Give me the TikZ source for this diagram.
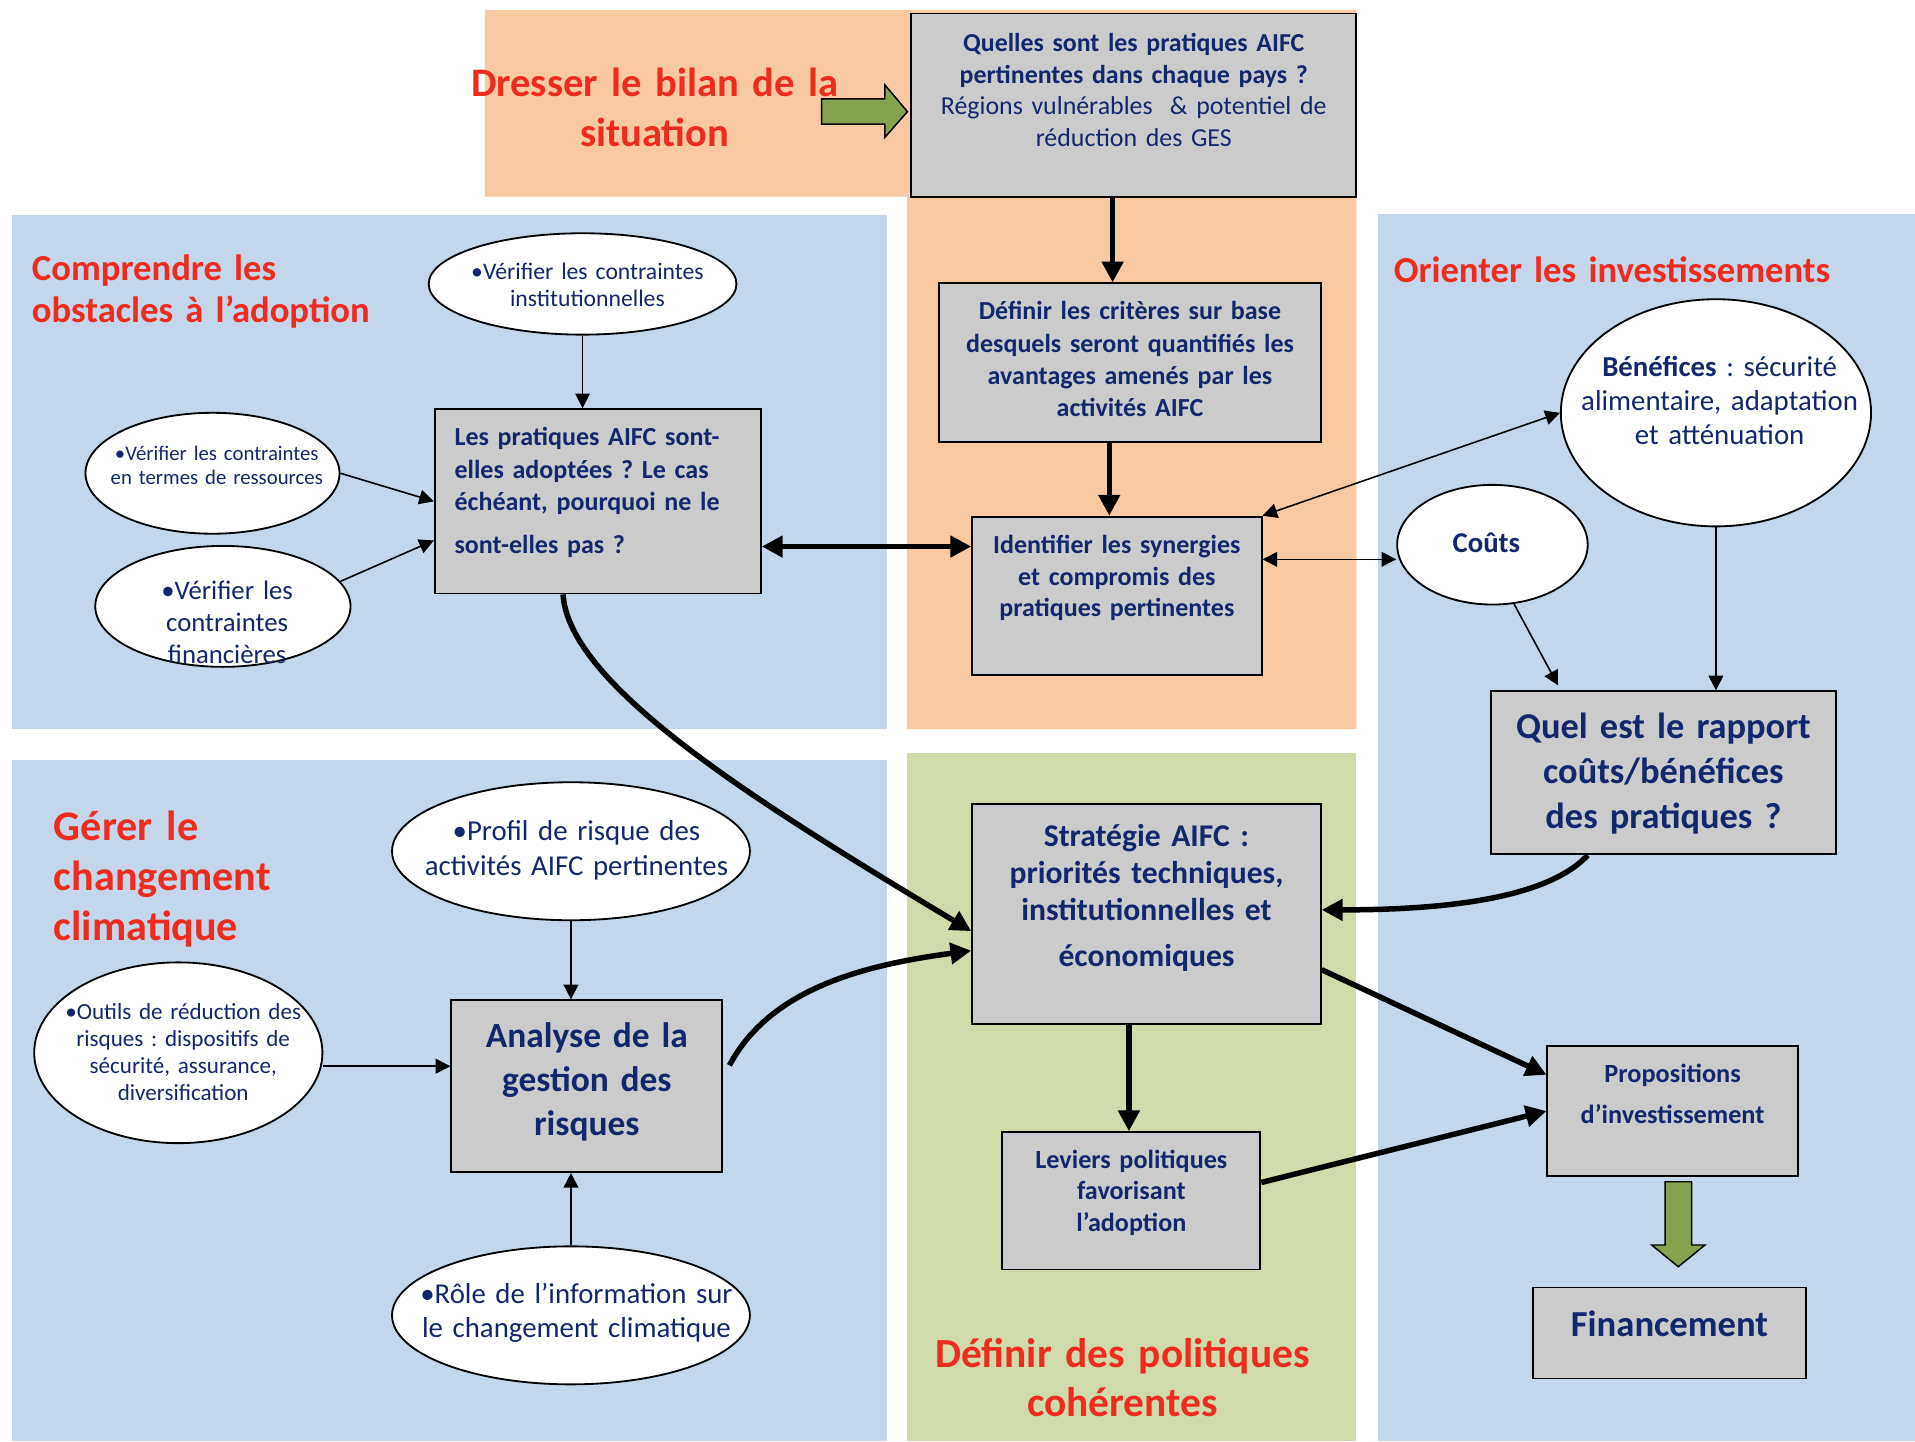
\documentclass[tikz,border=0pt]{standalone}
\usepackage{fontspec}
\setmainfont{Carlito}
\usetikzlibrary{arrows.meta,shapes.geometric,calc}
\definecolor{navy}{HTML}{13286C}
\definecolor{tred}{HTML}{EE2B1F}
\definecolor{orbg}{HTML}{F9CAA2}
\definecolor{blbg}{HTML}{C3D6EA}
\definecolor{grbg}{HTML}{CFDCAA}
\definecolor{boxgray}{HTML}{CBCBCB}
\definecolor{garrow}{HTML}{87A24E}
\newcommand{\fs}[2]{\fontsize{#1}{#2}\selectfont}
\frenchspacing
\begin{document}
\begin{tikzpicture}[x=1pt,y=-1pt,
  box/.style={draw=black,line width=1.5pt,fill=boxgray,rectangle,inner sep=0pt},
  ell/.style={draw=black,line width=1.5pt,fill=white,ellipse,inner sep=0pt},
  txt/.style={inner sep=0pt,text=navy,align=center,anchor=base,text width=420pt},
  ltxt/.style={inner sep=0pt,text=navy,align=left,anchor=base west,text width=420pt},
  ttl/.style={inner sep=0pt,text=tred,align=center,anchor=base,text width=500pt},
  lttl/.style={inner sep=0pt,text=tred,align=left,anchor=base west,text width=500pt},
  thk/.style={line width=4.5pt,-{Triangle[length=17pt,width=17pt]}},
  thkd/.style={line width=4.5pt,{Triangle[length=17pt,width=17pt]}-{Triangle[length=17pt,width=17pt]}},
  thn/.style={line width=1.3pt,-{Triangle[length=12pt,width=12pt]}},
  thnd/.style={line width=1.3pt,{Triangle[length=12pt,width=12pt]}-{Triangle[length=12pt,width=12pt]}},
  garr/.style={draw=black,line width=1.2pt,fill=garrow,line join=miter}
]
\useasboundingbox (0,0) rectangle (1568,1180);
\fill[white] (0,0) rectangle (1568,1180);
% backgrounds
\fill[orbg] (397,8) -- (1110.6,8) -- (1110.6,597) -- (742.6,597) -- (742.6,161) -- (397,161) -- cycle;
\fill[blbg] (10,176) rectangle (726.5,597);
\fill[blbg] (10,622.6) rectangle (726.5,1180);
\fill[grbg] (742.6,616.6) rectangle (1110.6,1180);
\fill[blbg] (1128,175) rectangle (1568,1180);

% boxes
\node[box,minimum width=364.6pt,minimum height=150pt] (bQ) at (928.3,86) {};
\node[box,minimum width=312.5pt,minimum height=130pt] (bD) at (925.25,297) {};
\node[box,minimum width=237pt,minimum height=130pt] (bI) at (914.5,488) {};
\node[box,minimum width=267pt,minimum height=151pt] (bP) at (489.5,410.5) {};
\node[box,minimum width=222pt,minimum height=140.6pt] (bA) at (480.5,889.3) {};
\node[box,minimum width=285.5pt,minimum height=180pt] (bS) at (938.75,748.4) {};
\node[box,minimum width=211.3pt,minimum height=112.4pt] (bL) at (926.35,983.2) {};
\node[box,minimum width=282pt,minimum height=133.4pt] (bR) at (1362,632.7) {};
\node[box,minimum width=205pt,minimum height=106.6pt] (bPr) at (1369.5,909.7) {};
\node[box,minimum width=224pt,minimum height=74.5pt] (bF) at (1367,1091.5) {};

% ellipses
\node[ell,minimum width=252pt,minimum height=83pt] (eInst) at (477,232.5) {};
\node[ell,minimum width=208pt,minimum height=99pt] (eRes) at (174,387.5) {};
\node[ell,minimum width=209pt,minimum height=99pt] (eFin) at (182.5,496.5) {};
\node[ell,minimum width=254pt,minimum height=186pt] (eBen) at (1405,338) {};
\node[ell,minimum width=156pt,minimum height=98pt] (eCout) at (1222,446) {};
\node[ell,minimum width=293pt,minimum height=113pt] (eProf) at (467.5,697) {};
\node[ell,minimum width=236pt,minimum height=148pt] (eOut) at (146,862) {};
\node[ell,minimum width=293pt,minimum height=113pt] (eRole) at (467.5,1077) {};

% green block arrows
\draw[garr] (672.8,81) -- (724.6,81) -- (724.6,69.6) -- (743,91.4) -- (724.6,112.4) -- (724.6,101.6) -- (672.8,101.6) -- cycle;
\draw[garr] (1363.3,967.6) -- (1385.1,967.6) -- (1385.1,1019.4) -- (1396,1019.4) -- (1374.2,1037.2) -- (1352.4,1019.4) -- (1363.3,1019.4) -- cycle;

% connectors
\draw[thk] ([xshift=-17.3pt]bQ.south) -- ([xshift=-17.3pt]bQ.south |- bD.north);
\draw[thk] ([xshift=-17pt]bD.south) -- ([xshift=-17pt]bD.south |- bI.north);
\draw[thkd] ([yshift=-37pt]bP.east) -- ([yshift=-37pt]bP.east -| bI.west);
\draw[thnd] (bI.north east) -- (eBen.west);
\draw[thnd] ([yshift=30pt]bI.east) -- ([yshift=30pt]bI.east -| eCout.west);
\draw[thn] (eCout.-70) -- ([xshift=55.5pt,yshift=4pt]bR.north west);
\draw[thn] (eBen.south) -- (eBen.south |- bR.north);
\draw[thn] (eInst.south) -- (eInst.south |- bP.north);
\draw[thn] (eRes.east) -- (bP.west);
\draw[thn] (eFin.12) -- ([yshift=-32pt]bP.west);
\draw[thn] (eProf.south) -- (eProf.south |- bA.north);
\draw[thn] ([yshift=-11pt]eOut.east) -- ([yshift=-11pt]eOut.east -| bA.west);
\draw[thn] (eRole.north) -- (eRole.north |- bA.south);
\draw[thk] ([xshift=-28.5pt]bP.south) .. controls +(5,75) and +(-175,-105) .. ([yshift=-14pt]bS.west);
\draw[thk] ([xshift=5pt,yshift=17pt]bA.east) .. controls +(33,-62) and +(-90,12) .. ([yshift=-30pt]bS.west);
\draw[thk] ([xshift=-62pt]bR.south) .. controls +(-35,38) and +(90,0) .. ([yshift=3.4pt]bS.east);
\draw[thk] ([yshift=-45.6pt]bS.east) -- ([yshift=29.7pt]bPr.west);
\draw[thk] ([xshift=-2pt]bL.north |- bS.south) -- ([xshift=-2pt]bL.north);
\draw[thk] ([yshift=15pt]bL.east) -- (bPr.west);

% box texts
\node[txt,font=\fs{21.2}{26}] (tQ) at (928.3,42) {{\bfseries Quelles sont les pratiques AIFC\\pertinentes dans chaque pays ?}\\Régions vulnérables~ \& potentiel de\\réduction des GES};
\node[txt,font=\bfseries\fs{21.3}{26.3}] (tD) at (925.25,262) {Définir les critères sur base\\desquels seront quantifiés les\\avantages amenés par les\\activités AIFC};
\node[txt,font=\bfseries\fs{21.3}{26}] (tI) at (914.5,453) {Identifier les synergies\\et compromis des\\pratiques pertinentes};
\node[ltxt,font=\bfseries\fs{21.3}{26.5}] (tP) at (372,365) {Les pratiques AIFC sont-\\elles adoptées ? Le cas\\échéant, pourquoi ne le\\[8.5pt]sont-elles pas ?};
\node[txt,font=\bfseries\fs{29}{36}] (tA) at (480.5,858) {Analyse de la\\gestion des\\risques};
\node[txt,font=\bfseries\fs{25.9}{30.5}] (tS) at (938.75,693) {Stratégie AIFC :\\priorités techniques,\\institutionnelles et\\[6.5pt]économiques};
\node[txt,font=\bfseries\fs{21.4}{25.5}] (tL) at (926.35,957) {Leviers politiques\\favorisant\\l’adoption};
\node[txt,font=\bfseries\fs{29.8}{36.5}] (tR) at (1362,605) {Quel est le rapport\\coûts/bénéfices\\des pratiques ?};
\node[txt,font=\bfseries\fs{21.5}{34}] (tPr) at (1369.5,886) {Propositions\\d’investissement};
\node[txt,font=\bfseries\fs{30}{34}] (tF) at (1367,1094) {Financement};

% ellipse texts
\node[txt,font=\fs{19.4}{22.5}] (tInst) at (481,228.5) {•Vérifier les contraintes\\institutionnelles};
\node[txt,font=\fs{17}{20}] (tRes) at (177.5,377) {•Vérifier les contraintes\\en termes de ressources};
\node[txt,font=\fs{21.9}{26}] (tFin) at (186,491) {•Vérifier les\\contraintes\\financières};
\node[txt,font=\fs{23.6}{28}] (tBen) at (1408,308) {\textbf{Bénéfices} : sécurité\\alimentaire, adaptation\\et atténuation};
\node[txt,font=\bfseries\fs{23.5}{28}] (tCout) at (1217,452) {Coûts};
\node[txt,font=\fs{23.6}{29}] (tProf) at (472,688) {•Profil de risque des\\activités AIFC pertinentes};
\node[txt,font=\fs{18.9}{22.3}] (tOut) at (150,834.5) {•Outils de réduction des\\risques : dispositifs de\\sécurité, assurance,\\diversification};
\node[txt,font=\fs{23.6}{28}] (tRole) at (472,1067) {•Rôle de l’information sur\\le changement climatique};

% titles
\node[ttl,font=\bfseries\fs{33.2}{41}] (tDr) at (536,79) {Dresser le bilan de la\\situation};
\node[lttl,font=\bfseries\fs{30}{34}] (tCo) at (26,230) {Comprendre les\\obstacles à l’adoption};
\node[lttl,font=\bfseries\fs{30}{34}] (tOr) at (1141,231) {Orienter les investissements};
\node[lttl,font=\bfseries\fs{34.5}{41}] (tGe) at (44,688) {Gérer le\\changement\\climatique};
\node[ttl,font=\bfseries\fs{33.9}{40}] (tDe) at (919,1120) {Définir des politiques\\cohérentes};
\end{tikzpicture}
\end{document}
